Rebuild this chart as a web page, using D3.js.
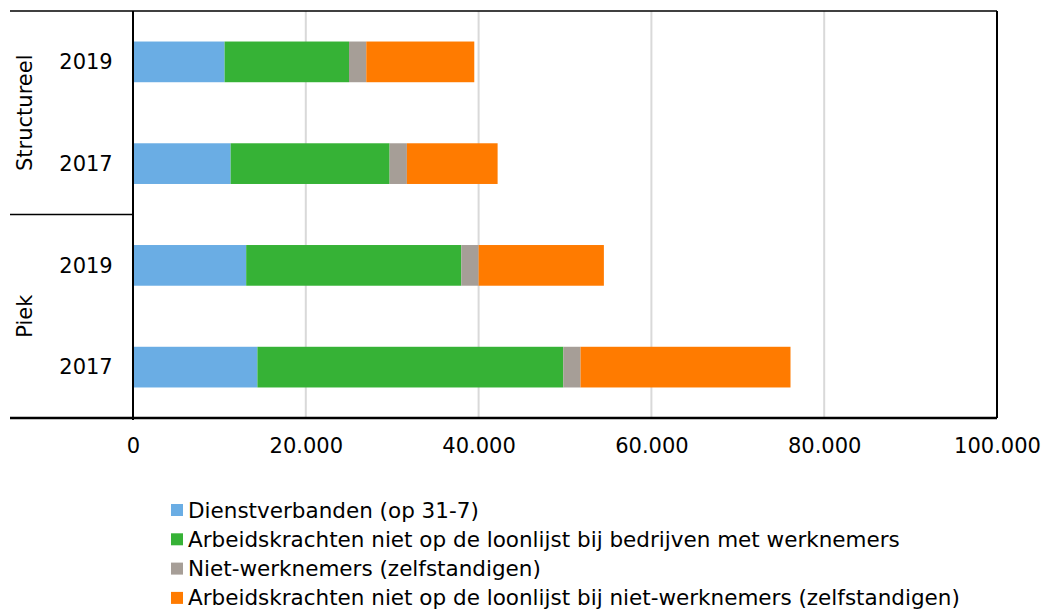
<!DOCTYPE html>
<html>
<head>
<meta charset="utf-8">
<script src="https://cdn.jsdelivr.net/npm/d3@7"></script>
<style>
  body { margin: 0; background: #fff; }
  svg text { font-family: "DejaVu Sans", Verdana, sans-serif; fill: #000; }
</style>
</head>
<body>
<div id="viz"></div>
<script>
// data (aantallen)
var groups = ["Structureel", "Structureel", "Piek", "Piek"]
var years = ["2019", "2017", "2019", "2017"]
var seriesNames = [
  "Dienstverbanden (op 31-7)",
  "Arbeidskrachten niet op de loonlijst bij bedrijven met werknemers",
  "Niet-werknemers (zelfstandigen)",
  "Arbeidskrachten niet op de loonlijst bij niet-werknemers (zelfstandigen)"
]
var dienstverbanden = [10600, 11300, 13100, 14400]
var nietLoonlijstBedrijven = [14400, 18400, 24900, 35400]
var nietWerknemers = [2000, 2000, 2000, 2000]
var nietLoonlijstZelfst = [12500, 10500, 14500, 24300]
var colors = ["#6aade4", "#36b236", "#a69e97", "#ff7b00"]
var xTicks = [0, 20000, 40000, 60000, 80000, 100000]

var width = 1045, height = 611
var margin = {top: 11, left: 133, right: 48, bottom: 193}
var plotW = width - margin.left - margin.right
var plotH = height - margin.top - margin.bottom
var fontSize = "21px"

var svg = d3.select("#viz").append("svg")
  .attr("width", width)
  .attr("height", height)

// build rows for the stack
var keys = ["a", "b", "c", "d"]
var rows = years.map(function(y, i) {
  return {id: i, a: dienstverbanden[i], b: nietLoonlijstBedrijven[i], c: nietWerknemers[i], d: nietLoonlijstZelfst[i]}
})
var stacked = d3.stack().keys(keys)(rows)

var xScale = d3.scaleLinear()
  .domain([0, 100000])
  .range([margin.left, margin.left + plotW])

var yScale = d3.scaleBand()
  .domain(d3.range(rows.length))
  .range([margin.top, margin.top + plotH])
  .paddingInner(0.6)
  .paddingOuter(0.3)

var nl = d3.formatLocale({decimal: ",", thousands: ".", grouping: [3], currency: ["€", ""]})

// gridlines
svg.append("g")
  .selectAll("line")
  .data(xTicks.slice(1, -1))
  .enter()
  .append("line")
    .attr("x1", d => xScale(d)).attr("x2", d => xScale(d))
    .attr("y1", margin.top).attr("y2", margin.top + plotH)
    .attr("stroke", "#d9d9d9")
    .attr("stroke-width", 2)

// bars
svg.append("g")
  .selectAll("g")
  .data(stacked)
  .enter()
  .append("g")
    .attr("fill", (d, i) => colors[i])
  .selectAll("rect")
  .data(d => d)
  .enter()
  .append("rect")
    .attr("x", d => xScale(d[0]))
    .attr("y", (d, i) => yScale(i))
    .attr("width", d => xScale(d[1]) - xScale(d[0]))
    .attr("height", yScale.bandwidth())

// x axis (labels only, no ticks)
var x_axis = d3.axisBottom(xScale)
  .tickValues(xTicks)
  .tickSize(0)
  .tickPadding(20)
  .tickFormat(nl.format(",d"))

var gx = svg.append("g")
  .attr("transform", "translate(0," + (margin.top + plotH) + ")")
  .call(x_axis)
gx.select(".domain").remove()
gx.selectAll("text")
  .style("font-size", fontSize)
  .style("font-family", "DejaVu Sans, Verdana, sans-serif")
  .attr("fill", "#000")

// frame lines
var black = "#000"
svg.append("line") // top
  .attr("x1", 10).attr("x2", margin.left + plotW)
  .attr("y1", margin.top).attr("y2", margin.top)
  .attr("stroke", black).attr("stroke-width", 1.5)
svg.append("line") // bottom
  .attr("x1", 10).attr("x2", margin.left + plotW)
  .attr("y1", margin.top + plotH).attr("y2", margin.top + plotH)
  .attr("stroke", black).attr("stroke-width", 2.5)
svg.append("line") // right
  .attr("x1", margin.left + plotW).attr("x2", margin.left + plotW)
  .attr("y1", margin.top).attr("y2", margin.top + plotH)
  .attr("stroke", black).attr("stroke-width", 2)
svg.append("line") // category axis
  .attr("x1", margin.left).attr("x2", margin.left)
  .attr("y1", margin.top).attr("y2", margin.top + plotH + 2)
  .attr("stroke", black).attr("stroke-width", 2)
svg.append("line") // group separator
  .attr("x1", 10).attr("x2", margin.left)
  .attr("y1", margin.top + plotH / 2).attr("y2", margin.top + plotH / 2)
  .attr("stroke", black).attr("stroke-width", 1.5)

// year labels
svg.append("g")
  .selectAll("text")
  .data(years)
  .enter()
  .append("text")
    .attr("x", 86)
    .attr("y", (d, i) => yScale(i) + yScale.bandwidth() / 2)
    .attr("dy", "0.35em")
    .attr("text-anchor", "middle")
    .style("font-size", fontSize)
    .text(d => d)

// group labels (rotated)
var groupNames = ["Structureel", "Piek"]
svg.append("g")
  .selectAll("text")
  .data(groupNames)
  .enter()
  .append("text")
    .attr("transform", function(d, i) {
      var yc = margin.top + plotH / 4 + i * plotH / 2
      return "translate(25," + yc + ") rotate(-90)"
    })
    .attr("dy", "0.35em")
    .attr("text-anchor", "middle")
    .style("font-size", fontSize)
    .text(d => d)

// legend
var legend = svg.append("g")
  .selectAll("g")
  .data(seriesNames)
  .enter()
  .append("g")
    .attr("transform", (d, i) => "translate(171," + (510 + i * 29.3) + ")")

legend.append("rect")
  .attr("x", 0).attr("y", -6)
  .attr("width", 12).attr("height", 12)
  .attr("fill", (d, i) => colors[i])

legend.append("text")
  .attr("x", 17)
  .attr("dy", "0.35em")
  .style("font-size", "21.5px")
  .text(d => d)
</script>
</body>
</html>
